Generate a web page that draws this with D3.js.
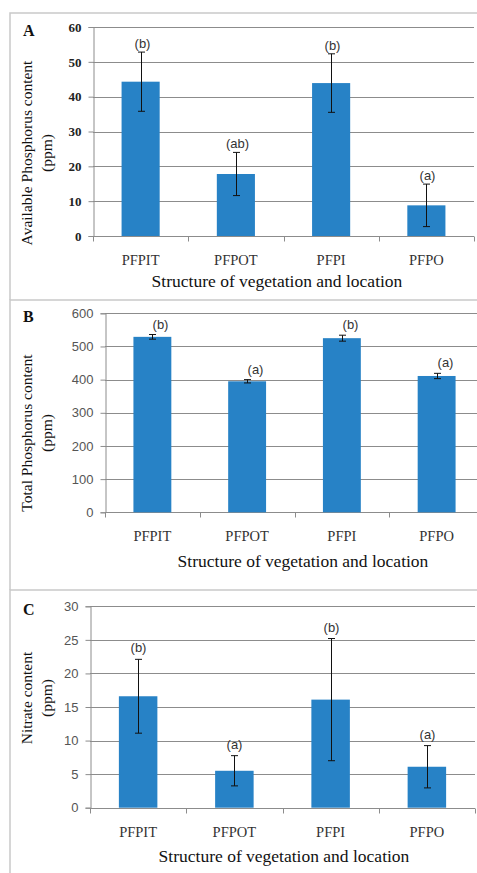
<!DOCTYPE html>
<html>
<head>
<meta charset="utf-8">
<script src="https://cdn.jsdelivr.net/npm/d3@7"></script>
<style>
  html, body { margin: 0; padding: 0; background: #fff; overflow: hidden; }
  svg { display: block; }
</style>
</head>
<body>
<div id="chart"></div>
<script>
const categories = ["PFPIT", "PFPOT", "PFPI", "PFPO"];

const availableP = [44.3, 17.8, 43.9, 8.8];
const availablePErr = [8.5, 6.2, 8.4, 6.1];
const availablePLetters = ["(b)", "(ab)", "(b)", "(a)"];
const availablePTicks = [0, 10, 20, 30, 40, 50, 60];

const totalP = [529, 395, 525, 411];
const totalPErr = [7, 5, 9, 8];
const totalPLetters = ["(b)", "(a)", "(b)", "(a)"];
const totalPTicks = [0, 100, 200, 300, 400, 500, 600];

const nitrate = [16.6, 5.5, 16.1, 6.1];
const nitrateErr = [5.5, 2.25, 9.1, 3.15];
const nitrateLetters = ["(b)", "(a)", "(b)", "(a)"];
const nitrateTicks = [0, 5, 10, 15, 20, 25, 30];

const xTitle = "Structure of vegetation and location";

const width = 477, height = 873;
const barColor = "#2782c6";
const serif = "'Liberation Serif', 'Times New Roman', serif";
const sans = "'Liberation Sans', Arial, sans-serif";

const svg = d3.select("#chart").append("svg")
    .attr("width", width)
    .attr("height", height);

// panel frames
const frames = [[13, 300], [300, 590], [590, 880]];
frames.forEach(f => {
    svg.append("path")
        .attr("d", `M${width},${f[0]} H10 V${f[1]}`)
        .attr("fill", "none")
        .attr("stroke", "#c9c9c9")
        .attr("stroke-width", 1.5);
});

const panels = [
    {
        letter: "A", values: availableP, errs: availablePErr, letters: availablePLetters,
        ticks: availablePTicks, max: 60,
        left: 93, right: 474, top: 27, bottom: 236,
        tickFont: serif, tickWeight: "bold", tickColor: "#222",
        yTitle: ["Available Phosphorus content", "(ppm)"], yTitleY: 153,
        xTitleX: 277, xTitleY: 287, catY: 265, labelDx: 1, labelGap: 8
    },
    {
        letter: "B", values: totalP, errs: totalPErr, letters: totalPLetters,
        ticks: totalPTicks, max: 600,
        left: 105, right: 484, top: 313.3, bottom: 512.3,
        tickFont: sans, tickWeight: "normal", tickColor: "#555",
        yTitle: ["Total Phosphorus content", "(ppm)"], yTitleY: 433,
        xTitleX: 303, xTitleY: 567, catY: 541, labelDx: 8, labelGap: 10
    },
    {
        letter: "C", values: nitrate, errs: nitrateErr, letters: nitrateLetters,
        ticks: nitrateTicks, max: 30,
        left: 90, right: 475, top: 606.3, bottom: 807.7,
        tickFont: sans, tickWeight: "normal", tickColor: "#555",
        yTitle: ["Nitrate content", "(ppm)"], yTitleY: 698,
        xTitleX: 284, xTitleY: 862, catY: 837, labelDx: 0, labelGap: 11
    }
];

panels.forEach(drawPanel);

function drawPanel(p) {
    const g = svg.append("g");

    const x = d3.scaleBand()
        .domain(categories)
        .range([p.left, p.right])
        .paddingInner(0.6)
        .paddingOuter(0.3);
    const y = d3.scaleLinear().domain([0, p.max]).range([p.bottom, p.top]);
    const step = x.step();

    // gridlines
    g.selectAll(".grid")
        .data(p.ticks.filter(t => t > 0))
        .enter().append("line")
        .attr("x1", p.left).attr("x2", p.right)
        .attr("y1", d => Math.round(y(d)) + 0.5)
        .attr("y2", d => Math.round(y(d)) + 0.5)
        .attr("stroke", "#8c8c8c")
        .attr("stroke-width", 1);

    // y axis
    const yAxis = g.append("g")
        .attr("transform", `translate(${Math.round(p.left) + 0.5},0)`)
        .call(d3.axisLeft(y).tickValues(p.ticks).tickSize(5).tickPadding(7));
    yAxis.select(".domain").attr("stroke", "#8c8c8c");
    yAxis.selectAll(".tick line").attr("stroke", "#8c8c8c");
    yAxis.selectAll(".tick text")
        .attr("font-family", p.tickFont)
        .attr("font-weight", p.tickWeight)
        .attr("font-size", 13)
        .attr("fill", p.tickColor);

    // x axis line with boundary ticks
    const xBase = Math.round(p.bottom) + 0.5;
    g.append("line")
        .attr("x1", p.left).attr("x2", p.right)
        .attr("y1", xBase).attr("y2", xBase)
        .attr("stroke", "#8c8c8c");
    g.selectAll(".xtick")
        .data(d3.range(categories.length + 1))
        .enter().append("line")
        .attr("x1", i => Math.round(p.left + i * step) + 0.5)
        .attr("x2", i => Math.round(p.left + i * step) + 0.5)
        .attr("y1", xBase).attr("y2", xBase + 5)
        .attr("stroke", "#8c8c8c");

    // bars
    g.selectAll(".bar")
        .data(p.values)
        .enter().append("rect")
        .attr("x", (d, i) => x(categories[i]))
        .attr("y", d => y(d))
        .attr("width", x.bandwidth())
        .attr("height", d => y(0) - y(d))
        .attr("fill", barColor);

    // error bars
    const cx = i => Math.round(x(categories[i]) + x.bandwidth() / 2) + 0.5;
    p.values.forEach((v, i) => {
        const hi = y(v + p.errs[i]), lo = y(v - p.errs[i]);
        g.append("line")
            .attr("x1", cx(i)).attr("x2", cx(i))
            .attr("y1", hi).attr("y2", lo)
            .attr("stroke", "#111").attr("stroke-width", 1);
        [hi, lo].forEach(yy => {
            g.append("line")
                .attr("x1", cx(i) - 3.5).attr("x2", cx(i) + 3.5)
                .attr("y1", yy).attr("y2", yy)
                .attr("stroke", "#111").attr("stroke-width", 1);
        });
        g.append("text")
            .attr("x", cx(i) + p.labelDx)
            .attr("y", hi - p.labelGap + 4)
            .attr("text-anchor", "middle")
            .attr("font-family", sans)
            .attr("font-size", 13)
            .attr("fill", "#333")
            .text(p.letters[i]);
    });

    // category labels
    g.selectAll(".cat")
        .data(categories)
        .enter().append("text")
        .attr("x", d => x(d) + x.bandwidth() / 2)
        .attr("y", p.catY)
        .attr("text-anchor", "middle")
        .attr("font-family", serif)
        .attr("font-size", 14.5)
        .attr("fill", "#333")
        .text(d => d);

    // x title
    g.append("text")
        .attr("x", p.xTitleX)
        .attr("y", p.xTitleY)
        .attr("text-anchor", "middle")
        .attr("font-family", serif)
        .attr("font-size", 17.5)
        .attr("fill", "#111")
        .text(xTitle);

    // y title
    p.yTitle.forEach((t, k) => {
        g.append("text")
            .attr("transform", `translate(${32 + k * 20},${p.yTitleY}) rotate(-90)`)
            .attr("text-anchor", "middle")
            .attr("font-family", serif)
            .attr("font-size", 15.5)
            .attr("fill", "#111")
            .text(t);
    });

    // panel letter
    g.append("text")
        .attr("x", 23)
        .attr("y", p.top + 9)
        .attr("font-family", serif)
        .attr("font-weight", "bold")
        .attr("font-size", 16)
        .attr("fill", "#111")
        .text(p.letter);
}
</script>
</body>
</html>
